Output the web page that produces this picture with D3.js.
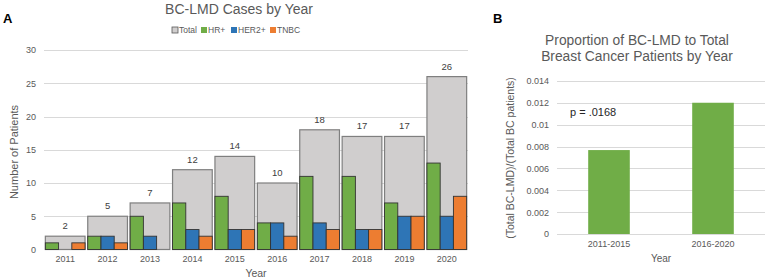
<!DOCTYPE html>
<html>
<head>
<meta charset="utf-8">
<script src="https://cdn.jsdelivr.net/npm/d3@7"></script>
<style>
	body { margin: 0; background: #fff; }
	svg { font-family: "Liberation Sans", Arial, sans-serif; }
	.grid line { stroke: #d9d9d9; stroke-width: 1; }
	.tick text { fill: #595959; }
</style>
</head>
<body>
<div id="chart"></div>
<script>
	// panel A data
	var years = ["2011", "2012", "2013", "2014", "2015", "2016", "2017", "2018", "2019", "2020"];
	var totalCases = [2, 5, 7, 12, 14, 10, 18, 17, 17, 26];
	var hrCases = [1, 2, 5, 7, 8, 4, 11, 11, 7, 13];
	var her2Cases = [0, 2, 2, 3, 3, 4, 4, 3, 5, 5];
	var tnbcCases = [1, 1, 0, 2, 3, 2, 3, 3, 5, 8];
	var subtypeNames = ["HR+", "HER2+", "TNBC"];
	var yTicksA = [0, 5, 10, 15, 20, 25, 30];

	// panel B data
	var periods = ["2011-2015", "2016-2020"];
	var proportions = [0.00768, 0.01201];
	var yTicksB = [0, 0.002, 0.004, 0.006, 0.008, 0.01, 0.012, 0.014];

	var colors = {
		"Total": "#d0cece",
		"HR+": "#70ad47",
		"HER2+": "#2e75b6",
		"TNBC": "#ed7d31"
	};
	var textGray = "#595959";

	var svg = d3.select("#chart").append("svg")
		.attr("width", 768)
		.attr("height", 280);

	/***************** PANEL A *************************/

	var xA = d3.scaleBand()
		.domain(years)
		.range([44, 468])
		.paddingInner(0.04)
		.paddingOuter(0.02);

	var yA = d3.scaleLinear()
		.domain([0, 30])
		.range([249.5, 50]);

	svg.append("g")
		.attr("class", "grid")
		.selectAll("line")
		.data(yTicksA.filter(function(d) { return d > 0; }))
		.enter().append("line")
		.attr("x1", 44)
		.attr("x2", 468)
		.attr("y1", function(d) { return Math.round(yA(d)) + 0.5; })
		.attr("y2", function(d) { return Math.round(yA(d)) + 0.5; });

	var yAxisA = d3.axisLeft(yA)
		.tickValues(yTicksA)
		.tickSize(0)
		.tickPadding(8);

	svg.append("g")
		.attr("transform", "translate(44,0)")
		.call(yAxisA)
		.call(function(g) { g.select(".domain").remove(); })
		.selectAll("text")
		.style("font-size", "9px");

	var rowsA = years.map(function(yr, i) {
		return {
			year: yr,
			total: totalCases[i],
			parts: [hrCases[i], her2Cases[i], tnbcCases[i]]
		};
	});

	var groups = svg.selectAll(".year")
		.data(rowsA)
		.enter().append("g")
		.attr("class", "year")
		.attr("transform", function(d) { return "translate(" + xA(d.year) + ",0)"; });

	groups.append("rect")
		.attr("x", 0.5)
		.attr("y", function(d) { return yA(d.total); })
		.attr("width", xA.bandwidth() - 1)
		.attr("height", function(d) { return yA(0) - yA(d.total); })
		.style("fill", colors["Total"])
		.style("stroke", "#7f7f7f")
		.style("stroke-width", 1.2);

	var xSub = d3.scaleBand()
		.domain(subtypeNames)
		.range([0.5, xA.bandwidth() - 0.5]);

	groups.selectAll(".sub")
		.data(function(d) {
			return d.parts.map(function(v, k) { return { name: subtypeNames[k], value: v }; });
		})
		.enter().append("rect")
		.attr("class", "sub")
		.attr("x", function(d) { return xSub(d.name); })
		.attr("y", function(d) { return yA(d.value); })
		.attr("width", xSub.bandwidth())
		.attr("height", function(d) { return yA(0) - yA(d.value); })
		.style("fill", function(d) { return colors[d.name]; })
		.style("stroke", function(d) { return d.value ? "#333" : "none"; })
		.style("stroke-width", 0.9);

	groups.append("text")
		.attr("x", xA.bandwidth() / 2)
		.attr("y", function(d) { return yA(d.total) - 7; })
		.style("text-anchor", "middle")
		.style("font-size", "9.5px")
		.style("fill", "#404040")
		.text(function(d) { return d.total; });

	var xAxisA = d3.axisBottom(xA).tickSize(0).tickPadding(6);

	svg.append("g")
		.attr("transform", "translate(0,250)")
		.call(xAxisA)
		.call(function(g) { g.select(".domain").remove(); })
		.selectAll("text")
		.style("font-size", "9px");

	svg.append("text")
		.attr("x", 256)
		.attr("y", 277)
		.style("text-anchor", "middle")
		.style("font-size", "10.5px")
		.style("fill", textGray)
		.text("Year");

	svg.append("text")
		.attr("transform", "translate(18,152) rotate(-90)")
		.style("text-anchor", "middle")
		.style("font-size", "11px")
		.style("fill", textGray)
		.text("Number of Patients");

	svg.append("text")
		.attr("x", 239)
		.attr("y", 14)
		.style("text-anchor", "middle")
		.style("font-size", "14px")
		.style("fill", textGray)
		.text("BC-LMD Cases by Year");

	svg.append("text")
		.attr("x", 3)
		.attr("y", 23)
		.style("font-size", "13px")
		.style("font-weight", "bold")
		.style("fill", "#000")
		.text("A");

	// legend
	var legendItems = ["Total", "HR+", "HER2+", "TNBC"];
	var legendX = [172, 201, 231, 270];
	var legend = svg.selectAll(".legend")
		.data(legendItems)
		.enter().append("g")
		.attr("class", "legend")
		.attr("transform", function(d, i) { return "translate(" + legendX[i] + ",30)"; });

	legend.append("rect")
		.attr("x", 0)
		.attr("y", -3)
		.attr("width", 6)
		.attr("height", 6)
		.style("fill", function(d) { return colors[d]; })
		.style("stroke", function(d) { return d === "Total" ? "#595959" : "none"; })
		.style("stroke-width", 0.8);

	legend.append("text")
		.attr("x", 7)
		.attr("y", 3)
		.style("font-size", "8.5px")
		.style("fill", textGray)
		.text(function(d) { return d; });

	/***************** PANEL B *************************/

	var xB = d3.scaleBand()
		.domain(periods)
		.range([557, 765])
		.paddingInner(0.6)
		.paddingOuter(0.3);

	var yB = d3.scaleLinear()
		.domain([0, 0.014])
		.range([234, 81]);

	svg.append("g")
		.attr("class", "grid")
		.selectAll("line")
		.data(yTicksB)
		.enter().append("line")
		.attr("x1", 557)
		.attr("x2", 765)
		.attr("y1", function(d) { return Math.round(yB(d)) + 0.5; })
		.attr("y2", function(d) { return Math.round(yB(d)) + 0.5; });

	var yAxisB = d3.axisLeft(yB)
		.tickValues(yTicksB)
		.tickSize(0)
		.tickPadding(8)
		.tickFormat(function(d) { return d === 0 ? "0" : String(+d.toFixed(3)); });

	svg.append("g")
		.attr("transform", "translate(557,0)")
		.call(yAxisB)
		.call(function(g) { g.select(".domain").remove(); })
		.selectAll("text")
		.style("font-size", "9px");

	svg.selectAll(".barB")
		.data(periods)
		.enter().append("rect")
		.attr("class", "barB")
		.attr("x", function(d) { return xB(d); })
		.attr("y", function(d, i) { return yB(proportions[i]); })
		.attr("width", xB.bandwidth())
		.attr("height", function(d, i) { return yB(0) - yB(proportions[i]); })
		.style("fill", colors["HR+"]);

	var xAxisB = d3.axisBottom(xB).tickSize(0).tickPadding(7);

	svg.append("g")
		.attr("transform", "translate(0,234)")
		.call(xAxisB)
		.call(function(g) { g.select(".domain").remove(); })
		.selectAll("text")
		.style("font-size", "9px");

	svg.append("text")
		.attr("x", 661)
		.attr("y", 262)
		.style("text-anchor", "middle")
		.style("font-size", "10px")
		.style("fill", textGray)
		.text("Year");

	svg.append("text")
		.attr("transform", "translate(514,158) rotate(-90)")
		.style("text-anchor", "middle")
		.style("font-size", "10.5px")
		.style("fill", textGray)
		.text("(Total BC-LMD)/(Total BC patients)");

	svg.append("text")
		.attr("x", 637)
		.attr("y", 45)
		.style("text-anchor", "middle")
		.style("font-size", "13.8px")
		.style("fill", textGray)
		.text("Proportion of BC-LMD to Total");

	svg.append("text")
		.attr("x", 637)
		.attr("y", 61)
		.style("text-anchor", "middle")
		.style("font-size", "13.8px")
		.style("fill", textGray)
		.text("Breast Cancer Patients by Year");

	svg.append("text")
		.attr("x", 570)
		.attr("y", 116)
		.style("font-size", "11px")
		.style("fill", "#262626")
		.text("p = .0168");

	svg.append("text")
		.attr("x", 493)
		.attr("y", 23)
		.style("font-size", "13px")
		.style("font-weight", "bold")
		.style("fill", "#000")
		.text("B");
</script>
</body>
</html>
